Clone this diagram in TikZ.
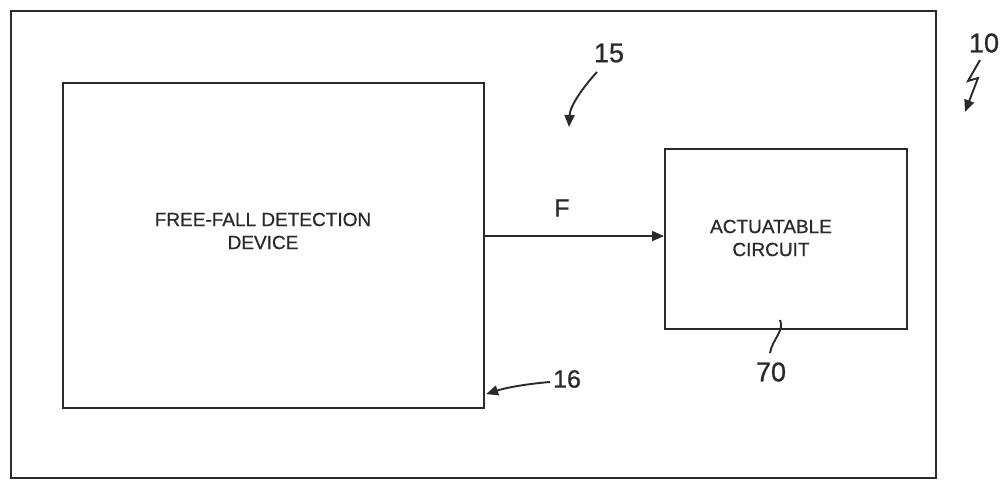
\documentclass[tikz,border=0pt]{standalone}
\usepackage{fontspec}
\setmainfont{Liberation Sans}
\newfontfamily\heavy[AutoFakeBold=0.8,FakeBold=0.8]{Liberation Sans}
\usetikzlibrary{arrows.meta,calc}
\definecolor{ink}{HTML}{2A2A2A}
\begin{document}
\begin{tikzpicture}[x=1pt,y=-1pt,
  frame/.style={draw=ink, line width=2.8pt, inner sep=0pt, anchor=north west},
  blockbox/.style={draw=ink, line width=2.1pt, inner sep=0pt, anchor=north west},
  lbl/.style={text=ink, font=\heavy\fontsize{19}{23}\selectfont, align=center, inner sep=0pt},
  num/.style={text=ink, font=\heavy\fontsize{27}{29}\selectfont, inner sep=0pt},
  lead/.style={draw=ink, line width=1.9pt},
  tipped/.style={-{Triangle[length=12pt,width=10pt]}}]
\useasboundingbox (0,0) rectangle (1003,479);
\fill[white] (0,0) rectangle (1003,479);
% outer frame
\node[frame, minimum width=925pt, minimum height=467pt] (outer) at (9.5,9.5) {};
% blocks
\node[blockbox, minimum width=421pt, minimum height=325pt] (lbox) at (62,82) {};
\node[blockbox, minimum width=242pt, minimum height=180pt] (rbox) at (664,148) {};
\node[lbl] (ltext) at (263,231) {FREE-FALL DETECTION\\DEVICE};
\node[lbl] (rtext) at (771,238) {ACTUATABLE\\CIRCUIT};
% signal F
\coordinate (fend) at ($(rbox.west)+(0,-3)$);
\draw[lead, tipped] (lbox.east |- fend) -- (fend);
\node[text=ink, font=\heavy\fontsize{25}{28}\selectfont, inner sep=0pt] (flab) at (562,208) {F};
% reference numerals
\node[num] (n15) at (609,53) {15};
\coordinate (s15) at (597,72);
\coordinate (e15) at (569,127);
\draw[lead, tipped] (s15) .. controls (585,85) and (570,105) .. (e15);
\node[num] (n10) at (984,43) {10};
\coordinate (z1) at (980,60);
\coordinate (z2) at (968,81);
\coordinate (z3) at (978,78);
\coordinate (z4) at (965,112);
\draw[lead, tipped] (z1) -- (z2) -- (z3) -- (z4);
\node[num, font=\heavy\fontsize{25}{27}\selectfont] (n16) at (567,379) {16};
\coordinate (s16) at (550,382);
\coordinate (e16) at ($(lbox.south east)+(1,-15)$);
\draw[lead, tipped] (s16) .. controls (525,384) and (505,388) .. (e16);
\node[num] (n70) at (771,372) {70};
\coordinate (s70) at (780,320);
\coordinate (e70) at (770,353);
\draw[lead] (s70) .. controls (785,330) and (772,340) .. (e70);
\end{tikzpicture}
\end{document}
